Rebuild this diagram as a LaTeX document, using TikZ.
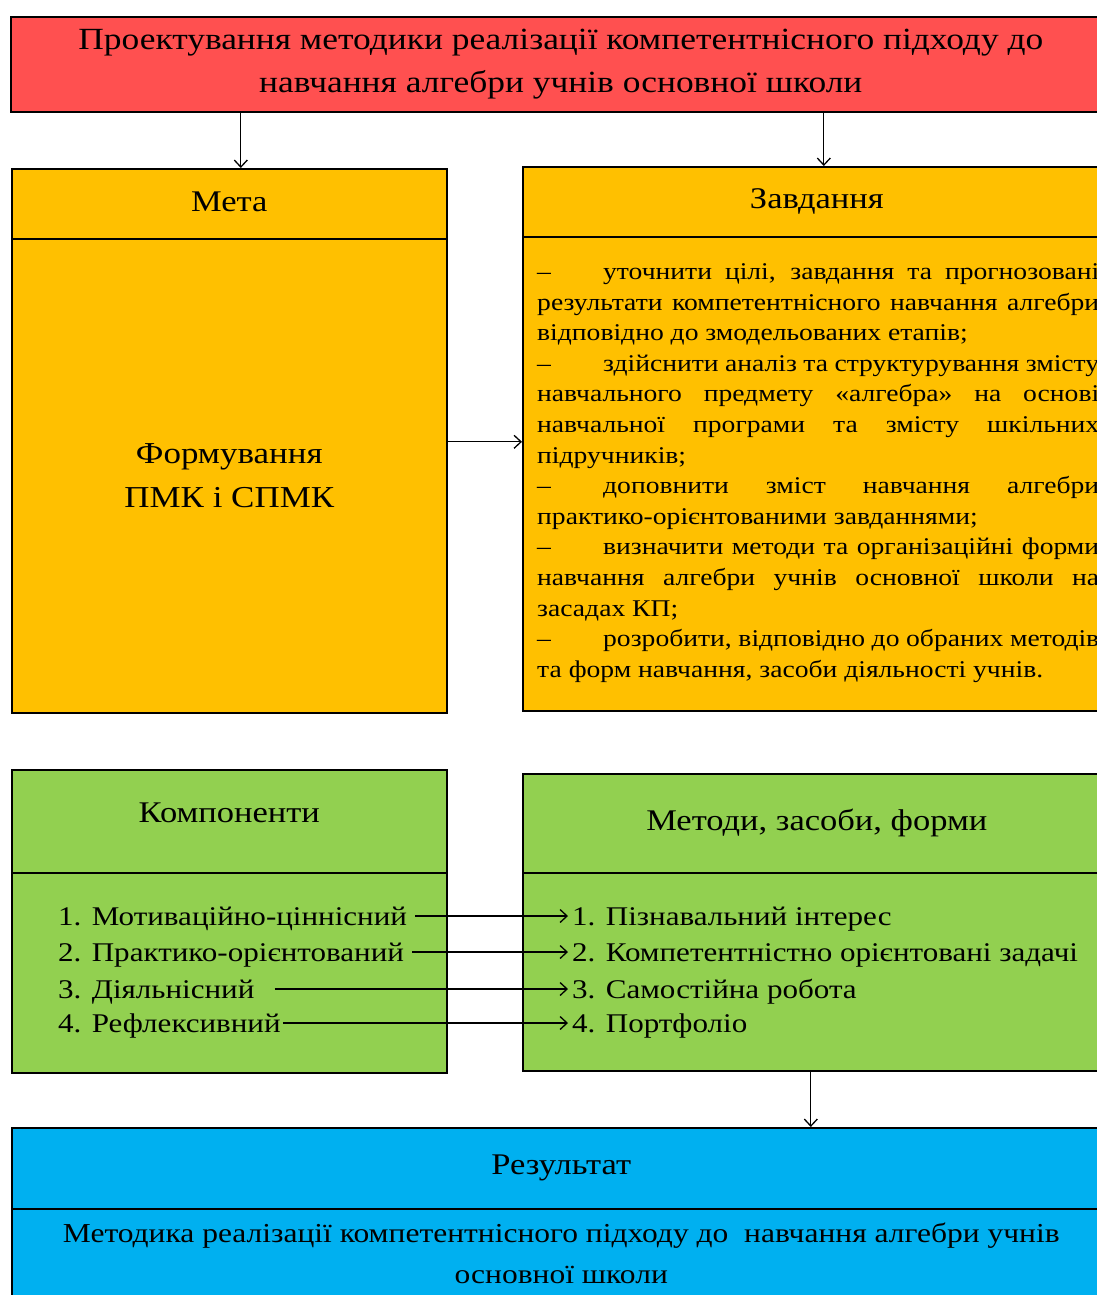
\documentclass[tikz,border=0pt]{standalone}
\usepackage{fontspec}
\setmainfont{Liberation Serif}[FakeStretch=1.15]
\usetikzlibrary{arrows.meta,positioning}

\definecolor{titlered}{HTML}{FF5050}
\definecolor{goalgold}{HTML}{FFC000}
\definecolor{compgreen}{HTML}{92D050}
\definecolor{resblue}{HTML}{00B0F0}
\setlength{\parindent}{0pt}

% the dash in front of a task
\newcommand{\taskdash}{\makebox[66pt][l]{--}}

\tikzset{
  box/.style={draw=black, line width=1.6pt, rectangle, inner sep=0pt, anchor=north west, align=center},
  headfont/.style={font=\fontsize{30}{36}\selectfont},
  itemfont/.style={font=\fontsize{27}{36}\selectfont, inner sep=0pt, anchor=base west},
  arr/.style={-{Straight Barb[length=7pt,width=13pt]}, line width=1.3pt},
}

\begin{document}
\begin{tikzpicture}[x=1pt,y=-1pt]
\useasboundingbox (0,0) rectangle (1097,1295);
\clip (0,0) rectangle (1097,1295);

% title
\node[box, fill=titlered, minimum width=1100, minimum height=95,
  font=\fontsize{30.8}{43}\selectfont] (title) at (10,16)
  {Проектування методики реалізації компетентнісного підходу до\\навчання алгебри учнів основної школи};

% goal and tasks
\node[box, fill=goalgold, minimum width=435, minimum height=70, headfont] (metahead) at (11,168) {\raisebox{5pt}{Мета}};
\node[box, fill=goalgold, minimum width=435, minimum height=474,
  font=\fontsize{30.4}{44}\selectfont] (metabody) at (11,238) {Формування\\ПМК і СПМК};
\node[box, fill=goalgold, minimum width=588, minimum height=70, headfont] (zavhead) at (522,166) {\raisebox{2pt}{Завдання}};
\node[box, fill=goalgold, minimum width=588, minimum height=474] (zavbody) at (522,236) {};
\node[anchor=west, inner sep=0pt, text width=562pt, align=justify,
  font=\fontsize{24}{30.6}\selectfont] (zavtext) at (537,473) {%
\parindent=0pt \tolerance=10000 \hbadness=10000
\taskdash уточнити цілі, завдання та прогнозовані\linebreak
результати компетентнісного навчання алгебри\linebreak
відповідно до змодельованих етапів;\par
\taskdash здійснити аналіз та структурування змісту\linebreak
навчального предмету «алгебра» на основі\linebreak
навчальної програми та змісту шкільних\linebreak
підручників;\par
\taskdash доповнити зміст навчання алгебри\linebreak
практико-орієнтованими завданнями;\par
\taskdash визначити методи та організаційні форми\linebreak
навчання алгебри учнів основної школи на\linebreak
засадах КП;\par
\taskdash розробити, відповідно до обраних методів\linebreak
та форм навчання, засоби діяльності учнів.\par};

% components and methods
\node[box, fill=compgreen, minimum width=435, minimum height=103, headfont] (comphead) at (11,769) {\raisebox{18pt}{Компоненти}};
\node[box, fill=compgreen, minimum width=435, minimum height=200] (compbody) at (11,872) {};
\node[box, fill=compgreen, minimum width=588, minimum height=99, headfont] (methead) at (522,773) {Методи, засоби, форми};
\node[box, fill=compgreen, minimum width=588, minimum height=198] (metbody) at (522,872) {};

\node[itemfont] (comp1) at (58,925) {1. Мотиваційно-ціннісний};
\node[itemfont] (comp2) at (58,961) {2. Практико-орієнтований};
\node[itemfont] (comp3) at (58,998) {3. Діяльнісний};
\node[itemfont] (comp4) at (58,1032) {4. Рефлексивний};
\node[itemfont] (met1) at (572,925) {1. Пізнавальний інтерес};
\node[itemfont] (met2) at (572,961) {2. Компетентністно орієнтовані задачі};
\node[itemfont] (met3) at (572,998) {3. Самостійна робота};
\node[itemfont] (met4) at (572,1032) {4. Портфоліо};

% result
\node[box, fill=resblue, minimum width=1099, minimum height=81, headfont] (reshead) at (11,1127) {Результат};
\node[box, fill=resblue, minimum width=1099, minimum height=90,
  font=\fontsize{27.4}{39}\selectfont] (resbody) at (11,1208)
  {\raisebox{2pt}{Методика реалізації компетентнісного підходу до~ навчання алгебри учнів}\\основної школи};

% connectors
\draw[arr] ([xshift=11.5pt]metahead.north |- title.south) -- ([xshift=11.5pt]metahead.north);
\draw[arr] ([xshift=7pt]zavhead.north |- title.south) -- ([xshift=7pt]zavhead.north);
\draw[arr] ([yshift=34pt]metabody.east) -- ([yshift=34pt]metabody.east -| zavbody.west);
\draw[arr, shorten <=8pt] ([yshift=9pt]comp1.base east) -- ([yshift=9pt,xshift=-4pt]met1.base west);
\draw[arr, shorten <=8pt] ([yshift=9pt]comp2.base east) -- ([yshift=9pt,xshift=-4pt]met2.base west);
\draw[arr, shorten <=20pt] ([yshift=9pt]comp3.base east) -- ([yshift=9pt,xshift=-4pt]met3.base west);
\draw[arr, shorten <=2pt] ([yshift=9pt]comp4.base east) -- ([yshift=9pt,xshift=-4pt]met4.base west);
\draw[arr] ([xshift=-6pt]metbody.south) -- ([xshift=-6pt]metbody.south |- reshead.north);
\end{tikzpicture}
\end{document}
